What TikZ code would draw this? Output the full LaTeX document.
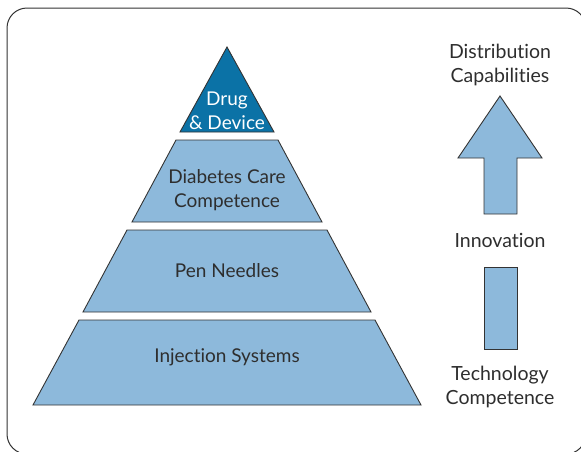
\documentclass[tikz,border=0pt]{standalone}
\usepackage{fontspec}
\setmainfont{Lato}[Ligatures=NoCommon]
\definecolor{tierblue}{HTML}{8DB9DB}
\definecolor{topblue}{HTML}{0B72A6}
\definecolor{edgegray}{HTML}{333333}
\definecolor{labelgray}{HTML}{2E2E2E}
\begin{document}
\begin{tikzpicture}[x=1pt,y=-1pt,
  tier/.style={fill=tierblue,draw=edgegray,line width=0.9pt,line join=miter},
  toptier/.style={fill=topblue,draw=edgegray,line width=0.9pt},
  tiertext/.style={font=\fontsize{19}{24}\selectfont,text=labelgray,align=center},
  sidetext/.style={font=\fontsize{19.5}{24}\selectfont,text=labelgray,align=center}]
\useasboundingbox (0,0) rectangle (581,451);
% outer frame
\draw[edgegray,line width=1pt,rounded corners=20pt] (7,8) rectangle (586,454);
% pyramid, apex at (227,47), half width = 0.545 * (y - 47)
\path[toptier] (227,47) -- (274,132) -- (180,132) -- cycle;
\path[tier] (176,140) -- (278,140) -- (322,222) -- (132,222) -- cycle;
\path[tier] (127,230) -- (327,230) -- (371,312) -- (83,312) -- cycle;
\path[tier] (79,320) -- (375,320) -- (421,405) -- (33,405) -- cycle;
\node[tiertext,text=white] (drug) at (227,111) {Drug\\\& Device};
\node[tiertext] (care) at (227,190) {Diabetes Care\\Competence};
\node[tiertext] (pen) at (227,271) {Pen Needles};
\node[tiertext] (inj) at (227,357) {Injection Systems};
% arrow with its separate shaft segment
\path[tier] (500,96) -- (542,158) -- (517,158) -- (517,214) -- (484,214) -- (484,158) -- (458,158) -- cycle;
\path[tier] (484,267) rectangle (517,349);
\node[sidetext] (dist) at (500,65) {Distribution\\Capabilities};
\node[sidetext] (innov) at (500,240) {Innovation};
\node[sidetext] (tech) at (500,387) {Technology\\Competence};
\end{tikzpicture}
\end{document}
